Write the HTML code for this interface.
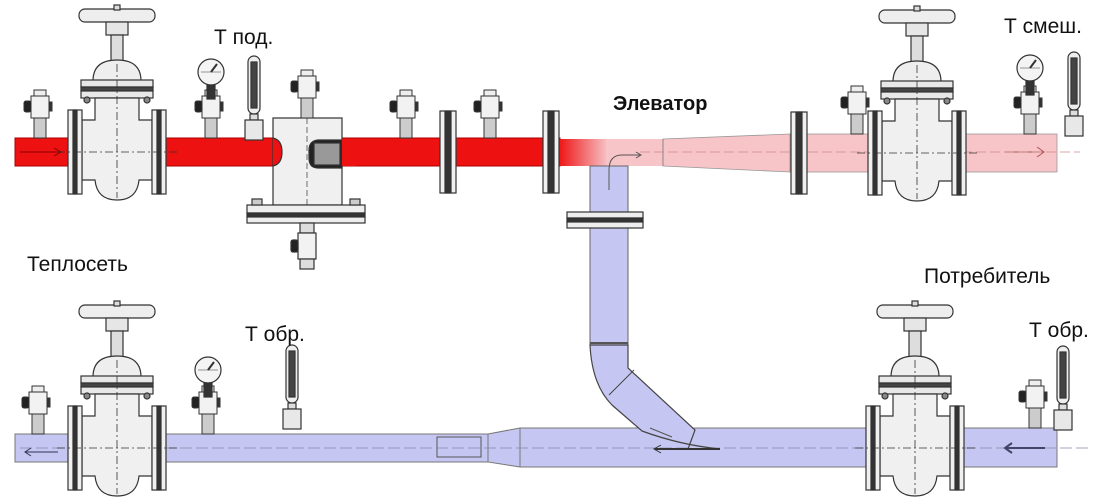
<!DOCTYPE html>
<html><head><meta charset="utf-8"><style>
html,body{margin:0;padding:0;background:#fff;width:1110px;height:497px;overflow:hidden}
svg{display:block}
text{font-family:"Liberation Sans",sans-serif;fill:#111}
</style></head><body>
<svg width="1110" height="497" viewBox="0 0 1110 497" xmlns="http://www.w3.org/2000/svg">
<defs>
<linearGradient id="rg" x1="0" x2="1">
<stop offset="0" stop-color="#ee1111"/><stop offset="1" stop-color="#f7c4c8"/>
</linearGradient>
<!-- valve centered at (0,0) pipe center -->
<g id="valve" stroke="#333" stroke-width="1.2">
<rect x="-38" y="-143" width="76" height="13" rx="6" fill="#eee"/>
<rect x="-3" y="-147" width="6" height="5" fill="#ddd"/>
<rect x="-11" y="-130" width="22" height="13" fill="#e6e6e6"/>
<rect x="-6" y="-117" width="12" height="28" fill="#ddd"/>
<path d="M-24,-71 Q-24,-92 0,-92 Q24,-92 24,-71 Z" fill="#eee"/>
<rect x="-36" y="-72" width="72" height="7" fill="#e8e8e8"/>
<rect x="-36" y="-65" width="72" height="4" fill="#444"/>
<rect x="-36" y="-61" width="72" height="7" fill="#e8e8e8"/>
<circle cx="-30" cy="-52" r="3" fill="#888"/><circle cx="30" cy="-52" r="3" fill="#888"/>
<path d="M-22,-54 L-22,-32 L-35,-32 L-35,28 L-22,28 Q-20,48 0,48 Q20,48 22,28 L35,28 L35,-32 L22,-32 L22,-54 Z" fill="#f0f0f0"/>
<rect x="-49" y="-42" width="14" height="84" fill="#f0f0f0"/>
<rect x="-44" y="-42" width="4" height="84" fill="#333"/>
<rect x="35" y="-42" width="14" height="84" fill="#f0f0f0"/>
<rect x="40" y="-42" width="4" height="84" fill="#333"/>
<line x1="0" y1="-88" x2="0" y2="46" stroke-dasharray="8 3 2 3" stroke-width="0.8"/>
<line x1="-60" y1="0" x2="60" y2="0" stroke-dasharray="8 3 2 3" stroke-width="0.8"/>
</g>
<!-- tap: origin at pipe top, center x -->
<g id="tap" stroke="#333" stroke-width="1">
<rect x="-6" y="-48" width="12" height="7" fill="#eee"/>
<rect x="-9" y="-42" width="18" height="22" fill="#f2f2f2"/>
<rect x="-16" y="-37" width="7" height="11" rx="2" fill="#222"/>
<rect x="9" y="-36" width="3" height="9" fill="#333"/>
<rect x="-6" y="-20" width="12" height="20" fill="#ccc"/>
</g>
<g id="gauge" stroke="#333" stroke-width="1.2">
<rect x="-4" y="13" width="8" height="14" fill="#333"/>
<circle cx="0" cy="0" r="13" fill="#f4f4f4"/>
<line x1="0" y1="0" x2="6" y2="-8" stroke-width="2"/>
<line x1="-10" y1="0" x2="10" y2="0" stroke-width="0.6"/>
</g>
<g id="thermo" stroke="#333" stroke-width="1.2">
<rect x="-6" y="0" width="12" height="58" rx="6" fill="#eee"/>
<rect x="-3" y="6" width="6" height="46" fill="#444"/>
<rect x="-4" y="58" width="8" height="6" fill="#ddd"/>
<rect x="-9" y="64" width="18" height="20" fill="#e8e8e8"/>
</g>
<g id="flange" stroke="#333" stroke-width="1.2">
<rect x="-8" y="-41" width="16" height="82" fill="#f0f0f0"/>
<rect x="-3" y="-41" width="6" height="82" fill="#333"/>
</g>
</defs>

<!-- TOP LINE -->
<rect x="15" y="138" width="545" height="28" fill="#ee1111" stroke="#a00" stroke-width="1"/>
<rect x="558" y="139" width="50" height="27" fill="url(#rg)"/>
<rect x="606" y="139" width="58" height="27" fill="#f7c4c8"/>
<polygon points="663,139 790,134 790,172 663,166" fill="#f7c4c8" stroke="#999" stroke-width="0.8"/>
<line x1="663" y1="139" x2="663" y2="166" stroke="#888"/>
<rect x="790" y="134" width="267" height="38" fill="#f7c4c8" stroke="#999" stroke-width="0.8"/>
<line x1="20" y1="152" x2="60" y2="152" stroke="#800" stroke-width="1"/>
<path d="M54,148 L61,152 L54,156" fill="none" stroke="#800"/>
<line x1="1005" y1="152" x2="1043" y2="152" stroke="#a55" stroke-width="1"/>
<path d="M1037,147 L1044,152 L1037,157" fill="none" stroke="#a55"/>
<line x1="640" y1="152" x2="1080" y2="152" stroke="#c88" stroke-width="0.7" stroke-dasharray="10 4"/>

<!-- vertical pipe -->
<rect x="590" y="166" width="38" height="180" fill="#c6c6f2" stroke="#666" stroke-width="1"/>
<line x1="590" y1="343" x2="628" y2="343" stroke="#555" stroke-width="2"/>
<path d="M609,190 L609,170 Q609,155 622,155 L640,155" fill="none" stroke="#555"/>
<path d="M636,152 L641,155 L636,158" fill="none" stroke="#555"/>
<g stroke="#333" stroke-width="1.2">
<rect x="567" y="212" width="76" height="6" fill="#eee"/>
<rect x="567" y="218" width="76" height="4" fill="#333"/>
<rect x="567" y="222" width="76" height="6" fill="#eee"/>
</g>

<!-- BOTTOM LINE -->
<rect x="15" y="434" width="475" height="28" fill="#c6c6f2" stroke="#777" stroke-width="1"/>
<polygon points="488,434 520,428 1057,428 1057,467 520,467 488,462" fill="#c6c6f2" stroke="#777" stroke-width="1"/>
<line x1="520" y1="428" x2="520" y2="467" stroke="#777"/>
<rect x="437" y="437" width="44" height="20" fill="#c6c6f2" stroke="#555"/>
<line x1="20" y1="448" x2="1090" y2="448" stroke="#88a" stroke-width="0.7" stroke-dasharray="12 4"/>
<line x1="25" y1="452" x2="58" y2="452" stroke="#335"/>
<path d="M31,448 L25,452 L31,456" fill="none" stroke="#335"/>
<line x1="1005" y1="448" x2="1045" y2="448" stroke="#446" stroke-width="2"/>
<path d="M1012,443 L1005,448 L1012,453" fill="none" stroke="#446" stroke-width="2"/>

<!-- elbow -->
<path d="M590,345 Q592,385 612,405 L642,431 Q680,445 720,449 L688,449 L695,430 L628,368 Q628,355 628,345 Z" fill="#c6c6f2" stroke="#444" stroke-width="1.2"/>
<line x1="609" y1="395" x2="634" y2="370" stroke="#444"/>
<line x1="655" y1="449" x2="720" y2="449" stroke="#333" stroke-width="2"/>
<path d="M661,445 L654,449 L661,453" fill="none" stroke="#333"/>
<line x1="672" y1="437" x2="650" y2="428" stroke="#555"/>

<!-- valves -->
<use href="#valve" transform="translate(117,152)"/>
<use href="#valve" transform="translate(917,153)"/>
<use href="#valve" transform="translate(117,448)"/>
<use href="#valve" transform="translate(915,448)"/>

<!-- flanges -->
<use href="#flange" transform="translate(448,152)"/>
<use href="#flange" transform="translate(551,152)"/>
<use href="#flange" transform="translate(799,153)"/>

<!-- filter -->
<g stroke="#333" stroke-width="1.2">
<rect x="273" y="118" width="69" height="87" fill="#f0f0f0"/>
<path d="M273,138 Q282,140 282,152 Q282,164 273,166" fill="#ee1111"/>
<path d="M342,140 L318,140 Q309,141 309,150 L309,158 Q309,168 318,168 L342,168 Z" fill="#222"/>
<rect x="314" y="143" width="26" height="22" fill="#999"/>
<rect x="342" y="139" width="14" height="27" fill="#ee1111" stroke="none"/>
<line x1="307" y1="118" x2="307" y2="205" stroke-dasharray="6 3" stroke-width="0.7"/>
<rect x="247" y="205" width="118" height="8" fill="#eee"/>
<rect x="247" y="213" width="118" height="4" fill="#333"/>
<rect x="247" y="217" width="118" height="6" fill="#eee"/>
<rect x="252" y="199" width="10" height="6" fill="#ccc"/><rect x="350" y="199" width="10" height="6" fill="#ccc"/>
<rect x="300" y="223" width="14" height="10" fill="#ddd"/>
<rect x="298" y="233" width="18" height="26" fill="#f2f2f2"/>
<rect x="291" y="240" width="7" height="12" rx="2" fill="#222"/>
<rect x="300" y="259" width="14" height="10" fill="#ddd"/>
</g>
<use href="#tap" transform="translate(307,118)"/>

<!-- taps -->
<use href="#tap" transform="translate(40,138)"/>
<use href="#tap" transform="translate(211,138)"/>
<use href="#tap" transform="translate(406,138)"/>
<use href="#tap" transform="translate(490,138)"/>
<use href="#tap" transform="translate(857,134)"/>
<use href="#tap" transform="translate(1030,134)"/>
<use href="#tap" transform="translate(38,434)"/>
<use href="#tap" transform="translate(208,434)"/>
<use href="#tap" transform="translate(1035,428)"/>

<!-- gauges -->
<use href="#gauge" transform="translate(211,72)"/>
<use href="#gauge" transform="translate(1030,68)"/>
<use href="#gauge" transform="translate(208,370)"/>

<!-- thermometers -->
<use href="#thermo" transform="translate(254,56)"/>
<use href="#thermo" transform="translate(1074,52)"/>
<use href="#thermo" transform="translate(292,345)"/>
<use href="#thermo" transform="translate(1063,346)"/>

<!-- labels -->
<text x="214" y="44" font-size="21">Т под.</text>
<text x="613" y="110" font-size="20" font-weight="bold">Элеватор</text>
<text x="1004" y="33" font-size="21">Т смеш.</text>
<text x="27" y="271" font-size="21">Теплосеть</text>
<text x="924" y="283" font-size="21">Потребитель</text>
<text x="1029" y="337" font-size="21">Т обр.</text>
<text x="245" y="341" font-size="21">Т обр.</text>
</svg>
</body></html>
